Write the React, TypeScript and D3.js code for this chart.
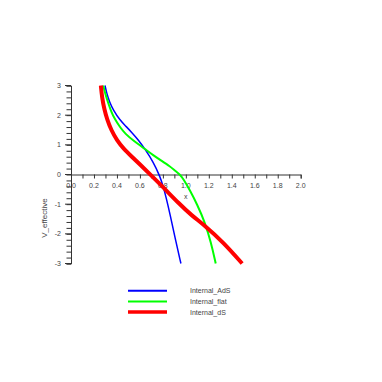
import React, { useEffect, useRef } from 'react';
import * as d3 from 'd3';

// series: [x, V_effective]
const adsPts: [number, number][] = [
  [0.296, 3.0], [0.31, 2.75], [0.335, 2.45], [0.368, 2.17], [0.426, 1.83], [0.48, 1.62],
  [0.528, 1.42], [0.59, 1.15], [0.643, 0.86], [0.716, 0.43], [0.774, -0.06], [0.80, -0.36],
  [0.83, -0.8], [0.861, -1.32], [0.904, -2.1], [0.957, -3.0],
];
const flatPts: [number, number][] = [
  [0.28, 3.0], [0.30, 2.7], [0.325, 2.4], [0.35, 2.12], [0.383, 1.85], [0.43, 1.58],
  [0.47, 1.38], [0.55, 1.12], [0.643, 0.86], [0.72, 0.64], [0.79, 0.46], [0.86, 0.28],
  [0.90, 0.15], [0.948, 0.0], [0.98, -0.16], [1.035, -0.53], [1.10, -1.02],
  [1.165, -1.6], [1.22, -2.3], [1.26, -3.0],
];
const dsPts: [number, number][] = [
  [0.26, 3.0], [0.27, 2.6], [0.29, 2.2], [0.315, 1.85], [0.35, 1.5], [0.40, 1.15],
  [0.46, 0.86], [0.53, 0.6], [0.6, 0.34], [0.69, 0.0], [0.8, -0.42],
  [0.94, -0.98], [1.05, -1.38], [1.165, -1.72], [1.33, -2.3], [1.49, -3.0],
];

const seriesNames = ['Internal_AdS', 'Internal_flat', 'Internal_dS'];
const seriesColors = ['#0000ff', '#00ff00', '#ff0000'];
const seriesWidths = [1.5, 2, 4];

const xTicks = [0, 0.2, 0.4, 0.6, 0.8, 1.0, 1.2, 1.4, 1.6, 1.8, 2.0];
const yTicks = [-3, -2, -1, 0, 1, 2, 3];

export default function App() {
  const ref = useRef<SVGSVGElement>(null);

  useEffect(() => {
    const svg = d3.select(ref.current);
    svg.selectAll('*').remove();

    const x = d3.scaleLinear().domain([0, 2]).range([71, 300.7]);
    const y = d3.scaleLinear().domain([-3, 3]).range([263.5, 85.5]);
    const font = 'Liberation Sans, Arial, sans-serif';

    // x axis (through y = 0)
    const xAx = svg.append('g').attr('transform', `translate(0,${y(0)})`)
      .call(d3.axisBottom(x).tickValues(d3.range(0, 2.01, 0.1)).tickSize(4).tickFormat('' as any));
    xAx.select('.domain').attr('stroke', '#333');
    xAx.selectAll('line').attr('stroke', '#333');

    svg.append('g').selectAll('text').data(xTicks).join('text')
      .attr('x', d => x(d)).attr('y', y(0) + 13)
      .attr('text-anchor', 'middle').attr('font-family', font).attr('font-size', 7).attr('fill', '#444')
      .text(d => d.toFixed(1));

    // y axis: minor ticks every 0.2, major at integers
    const yAx = svg.append('g').attr('transform', `translate(${x(0)},0)`)
      .call(d3.axisLeft(y).tickValues(d3.range(-3, 3.01, 0.2)).tickSize(4.5).tickFormat('' as any));
    yAx.select('.domain').attr('stroke', '#333');
    yAx.selectAll('line').attr('stroke', '#333');
    svg.append('g').selectAll('line').data(yTicks).join('line')
      .attr('x1', x(0) - 6).attr('x2', x(0)).attr('y1', d => y(d)).attr('y2', d => y(d))
      .attr('stroke', '#333');
    svg.append('g').selectAll('text').data(yTicks).join('text')
      .attr('x', x(0) - 10).attr('y', d => y(d) + 2.5)
      .attr('text-anchor', 'end').attr('font-family', font).attr('font-size', 7).attr('fill', '#444')
      .text(d => d);

    // axis titles
    svg.append('text').attr('x', x(1)).attr('y', y(0) + 24)
      .attr('text-anchor', 'middle').attr('font-family', font).attr('font-size', 7).attr('fill', '#444')
      .text('x');
    svg.append('text').attr('transform', 'translate(47,218) rotate(-90)')
      .attr('text-anchor', 'middle').attr('font-family', font).attr('font-size', 8).attr('fill', '#444')
      .text('V_effective');

    const line = d3.line<[number, number]>()
      .x(d => x(d[0])).y(d => y(d[1]))
      .curve(d3.curveBasis);

    const all = [adsPts, flatPts, dsPts];
    all.forEach((pts, i) => {
      svg.append('path').datum(pts).attr('d', line)
        .attr('fill', 'none').attr('stroke', seriesColors[i]).attr('stroke-width', seriesWidths[i]);
    });

    // legend
    const lg = svg.append('g');
    seriesNames.forEach((name, i) => {
      const ly = 290.7 + i * 10.7;
      lg.append('line').attr('x1', 128).attr('x2', 167).attr('y1', ly).attr('y2', ly)
        .attr('stroke', seriesColors[i]).attr('stroke-width', i === 2 ? 3.5 : 2);
      lg.append('text').attr('x', 190).attr('y', ly + 2.5)
        .attr('font-family', font).attr('font-size', 7).attr('fill', '#444')
        .text(name);
    });
  }, []);

  return (
    <svg ref={ref} width={382} height={382}
      style={{ position: 'absolute', left: 0, top: 0, background: '#fff' }} />
  );
}
